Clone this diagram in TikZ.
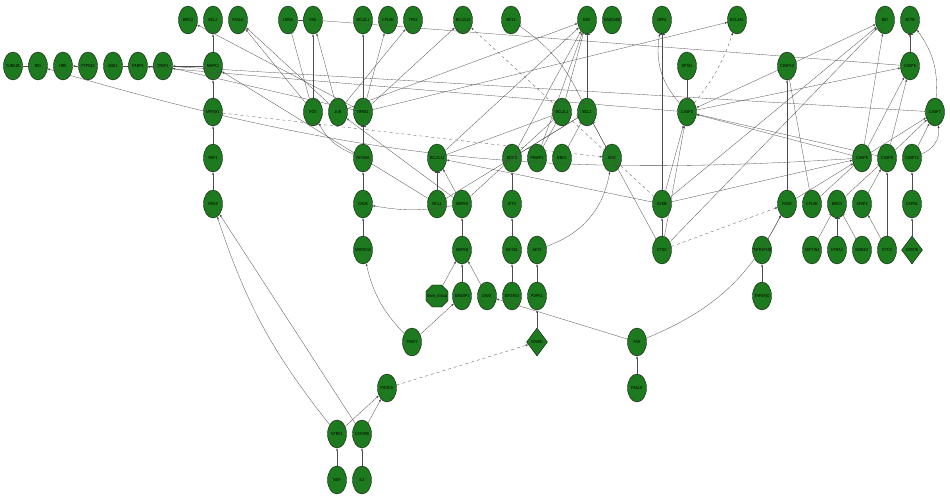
\documentclass[tikz,border=0pt]{standalone}
\usepackage{fontspec}
\setmainfont{Liberation Sans}
\usepackage{tikz}
\usetikzlibrary{shapes.geometric, arrows.meta}
\definecolor{gnode}{RGB}{30,122,30}
\newcommand{\gn}[1]{\makebox[0pt]{\scalebox{0.8}[1]{#1}}}
\tikzset{
  gene/.style={ellipse, draw=black, line width=0.3pt, fill=gnode, minimum width=19pt, minimum height=28pt, inner sep=0pt, font=\fontsize{4.4}{5}\selectfont},
  cpd/.style={diamond, draw=black, line width=0.3pt, fill=gnode, minimum width=21pt, minimum height=28pt, inner sep=0pt, font=\fontsize{4.4}{5}\selectfont},
  grp/.style={regular polygon, regular polygon sides=8, draw=black, line width=0.3pt, fill=gnode, minimum size=24pt, inner sep=0pt, font=\fontsize{4.4}{5}\selectfont},
  act/.style={-{Latex[length=2.5pt,width=2pt]}, line width=0.3pt, draw=black!70},
  inh/.style={-{Bar[width=5pt]}, line width=0.3pt, draw=black!70},
  dact/.style={act, dashed},
}
\begin{document}
\begin{tikzpicture}[x=1pt, y=-1pt]
    \useasboundingbox (0,0) rectangle (950,502);
    % top row
    \node[gene] (BIRC2a) at (188,20) {\gn{BIRC2}};
    \node[gene] (BCL2a) at (213,20) {\gn{BCL2}};
    \node[gene] (FASLGa) at (238,20) {\gn{FASLG}};
    \node[gene] (LMNA) at (288,20) {\gn{LMNA}};
    \node[gene] (FASa) at (313,20) {\gn{FAS}};
    \node[gene] (BCL2L1a) at (363,20) {\gn{BCL2L1}};
    \node[gene] (CFLARa) at (388,20) {\gn{CFLAR}};
    \node[gene] (TP53) at (413,20) {\gn{TP53}};
    \node[gene] (BCL2L11a) at (463,20) {\gn{BCL2L11}};
    \node[gene] (MCL1a) at (511,20) {\gn{MCL1}};
    \node[gene] (BAX) at (587,20) {\gn{BAX}};
    \node[gene] (GADD45B) at (612,20) {\gn{GADD45B}};
    \node[gene] (DFFA) at (662,20) {\gn{DFFA}};
    \node[gene] (BCL2A1) at (737,20) {\gn{BCL2A1}};
    \node[gene] (BIDb) at (885,20) {\gn{BID}};
    \node[gene] (ACTB) at (910,20) {\gn{ACTB}};
    % second row
    \node[gene] (TUBA1B) at (13,66) {\gn{TUBA1B}};
    \node[gene] (BIDa) at (38,66) {\gn{BID}};
    \node[gene] (HRK) at (63,66) {\gn{HRK}};
    \node[gene] (PTPN13) at (88,66) {\gn{PTPN13}};
    \node[gene] (BAK1) at (113,66) {\gn{BAK1}};
    \node[gene] (PARP3) at (138,66) {\gn{PARP3}};
    \node[gene] (TRAF1) at (163,66) {\gn{TRAF1}};
    \node[gene] (MAPK1) at (213,66) {\gn{MAPK1}};
    \node[gene] (SPTA1) at (687,66) {\gn{SPTA1}};
    \node[gene] (CASP10) at (787,66) {\gn{CASP10}};
    \node[gene] (CASP6) at (910,66) {\gn{CASP6}};
    % third row
    \node[gene] (MAP3K1) at (213,112) {\gn{MAP3K1}};
    \node[gene] (FOS) at (313,112) {\gn{FOS}};
    \node[gene] (JUN) at (338,112) {\gn{JUN}};
    \node[gene] (NFKB1) at (363,112) {\gn{NFKB1}};
    \node[gene] (BCL2L1b) at (562,112) {\gn{BCL2L1}};
    \node[gene] (BCL2b) at (587,112) {\gn{BCL2}};
    \node[gene] (CASP3) at (687,112) {\gn{CASP3}};
    \node[gene] (CASP7) at (935,112) {\gn{CASP7}};
    % fourth row
    \node[gene] (RAF1) at (213,158) {\gn{RAF1}};
    \node[gene] (NFKBIA) at (363,158) {\gn{NFKBIA}};
    \node[gene] (BCL2L11b) at (437,158) {\gn{BCL2L11}};
    \node[gene] (DDIT3) at (512,158) {\gn{DDIT3}};
    \node[gene] (PMAIP1) at (537,158) {\gn{PMAIP1}};
    \node[gene] (BBC3) at (562,158) {\gn{BBC3}};
    \node[gene] (BAD) at (612,158) {\gn{BAD}};
    \node[gene] (CASP8) at (862,158) {\gn{CASP8}};
    \node[gene] (CASP9) at (887,158) {\gn{CASP9}};
    \node[gene] (CASP12) at (912,158) {\gn{CASP12}};
    % fifth row
    \node[gene] (HRAS) at (213,204) {\gn{HRAS}};
    \node[gene] (CHUK) at (363,204) {\gn{CHUK}};
    \node[gene] (MCL1b) at (437,204) {\gn{MCL1}};
    \node[gene] (MAPK9) at (462,204) {\gn{MAPK9}};
    \node[gene] (ATF4) at (512,204) {\gn{ATF4}};
    \node[gene] (GZMB) at (662,204) {\gn{GZMB}};
    \node[gene] (FADD) at (787,204) {\gn{FADD}};
    \node[gene] (CFLARb) at (812,204) {\gn{CFLAR}};
    \node[gene] (BIRC3) at (837,204) {\gn{BIRC3}};
    \node[gene] (APAF1) at (862,204) {\gn{APAF1}};
    \node[gene] (CAPN1) at (912,204) {\gn{CAPN1}};
    % sixth row
    \node[gene] (MAP3K14) at (363,250) {\gn{MAP3K14}};
    \node[gene] (MAPK8) at (462,250) {\gn{MAPK8}};
    \node[gene] (EIF2S1) at (512,250) {\gn{EIF2S1}};
    \node[gene] (AKT3) at (537,250) {\gn{AKT3}};
    \node[gene] (CTSC) at (662,250) {\gn{CTSC}};
    \node[gene] (TNFRSF10B) at (762,250) {\gn{TNFRSF10B}};
    \node[gene] (SEPTIN4) at (812,250) {\gn{SEPTIN4}};
    \node[gene] (HTRA2) at (837,250) {\gn{HTRA2}};
    \node[gene] (DIABLO) at (862,250) {\gn{DIABLO}};
    \node[gene] (CYCS) at (887,250) {\gn{CYCS}};
    \node[cpd] (C00076) at (912,250) {\gn{C00076}};
    % lower part
    \node[grp] (GeneGroup) at (437,296) {\gn{Gene\_Group}};
    \node[gene] (DAB2IP1) at (462,296) {\gn{DAB2IP1}};
    \node[gene] (DAXX) at (487,296) {\gn{DAXX}};
    \node[gene] (EIF2AK3) at (512,296) {\gn{EIF2AK3}};
    \node[gene] (PDPK1) at (537,296) {\gn{PDPK1}};
    \node[gene] (TNFSF10) at (762,296) {\gn{TNFSF10}};
    \node[gene] (TRAF2) at (412,342) {\gn{TRAF2}};
    \node[cpd] (C05981) at (537,342) {\gn{C05981}};
    \node[gene] (FASb) at (637,342) {\gn{FAS}};
    \node[gene] (PIK3CA) at (387,388) {\gn{PIK3CA}};
    \node[gene] (FASLGb) at (637,388) {\gn{FASLG}};
    \node[gene] (NTRK1) at (337,434) {\gn{NTRK1}};
    \node[gene] (CSF2RB) at (362,434) {\gn{CSF2RB}};
    \node[gene] (NGF) at (337,480) {\gn{NGF}};
    \node[gene] (IL3) at (362,480) {\gn{IL3}};
    % activations
    \foreach \a/\b in {NGF/NTRK1, IL3/CSF2RB, NTRK1/PIK3CA, CSF2RB/PIK3CA, C05981/PDPK1, PDPK1/AKT3,
        EIF2AK3/EIF2S1, EIF2S1/ATF4, ATF4/DDIT3, FASLGb/FASb, TNFSF10/TNFRSF10B, TNFRSF10B/FADD,
        GeneGroup/MAPK8, DAB2IP1/MAPK8, DAXX/MAPK8, TRAF2/DAB2IP1, MAPK8/MAPK9, MAP3K14/CHUK, CHUK/NFKBIA,
        HRAS/RAF1, RAF1/MAP3K1, MAP3K1/MAPK1, MAPK1/BCL2a, CSF2RB/HRAS, C00076/CAPN1, CAPN1/CASP12,
        CYCS/APAF1, CYCS/CASP9, APAF1/CASP9, FADD/CASP8, FADD/CASP10, CTSC/GZMB, GZMB/BIDb, GZMB/CASP3,
        GZMB/CASP8, CASP8/BIDb, CASP8/CASP3, CASP8/CASP6, CASP8/CASP7, CASP9/CASP3, CASP9/CASP7,
        CASP12/CASP7, CASP10/BIDb, CASP6/ACTB, MAPK9/JUN, MAPK9/BCL2L11b, NFKB1/BCL2L1a, NFKB1/CFLARa,
        NFKB1/BCL2L11a, NFKB1/BIRC2a, NFKB1/TRAF1, JUN/FASLGa, JUN/FASa, JUN/TP53, FOS/FASLGa,
        FOS/FASa, NFKB1/BCL2A1, JUN/BAX, CASP9/CASP6, BCL2L11b/BAX, DDIT3/BAX, PMAIP1/BAX}
        \draw[act] (\a) -- (\b);
    \draw[act] (NTRK1) to[bend left=10] (HRAS);
    \draw[act] (TRAF2) to[bend left=15] (MAP3K14);
    \draw[act] (NFKBIA) to[bend left=20] (FOS);
    \draw[act] (MAPK1) -- (TRAF1);
    \draw[act] (CASP3) to[bend left=25] (DFFA);
    \draw[act] (CASP7) to[bend right=20] (ACTB);
    \draw[act] (CASP12) to[bend right=40] (CASP7);
    \draw[act] (PTPN13) -- (HRK);
    \draw[act] (CASP8) to[bend left=10] (BIDa);
    \draw[act] (CASP3) -- (PARP3);
    \draw[act] (FASb) -- (DAXX);
    \draw[act] (FASb) to[bend right=20] (FADD);
    \draw[act] (CTSC) -- (CASP3);
    \draw[act] (CTSC) -- (BIDb);
    \draw[act] (CASP3) -- (CASP6);
    \draw[act] (CASP10) -- (CASP3);
    \draw[act] (GZMB) -- (BCL2L11b);
    \draw[act] (AKT3) to[bend right=30] (BAD);
    \draw[act] (MCL1b) -- (MAPK1);
    \draw[act] (MAPK9) to[bend left=10] (CHUK);
    % dashed
    \draw[dact] (PIK3CA) -- (C05981);
    \draw[dact] (CTSC) -- (FADD);
    \draw[dact] (MAP3K1) -- (BAD);
    \draw[dact] (CASP3) to[bend right=10] (BCL2A1);
    \draw[dact] (GZMB) -- (BCL2L11a);
    % inhibitions
    \foreach \a/\b in {TUBA1B/BIDa, LMNA/FASa, BAK1/PARP3, PARP3/TRAF1, SPTA1/CASP3, CASP6/ACTB,
        SEPTIN4/BIRC3, HTRA2/BIRC3, DIABLO/BIRC3, BIRC3/CASP9, CFLARb/CASP8, CFLARb/CASP10,
        BAD/BCL2b, BBC3/BCL2b, PMAIP1/BCL2L1b, DDIT3/BCL2b, MCL1b/BCL2L11b, BCL2b/BAX, BCL2L1b/BAX,
        NFKBIA/NFKB1, GZMB/DFFA, FOS/LMNA}
        \draw[inh] (\a) -- (\b);
    \draw[inh] (BCL2L11b) -- (BCL2L1b);
    \draw[inh] (MCL1b) -- (BCL2b);
    \draw[inh] (CTSC) -- (BCL2b);
    \draw[inh] (MAPK9) -- (BCL2L1b);
    \draw[inh] (BCL2b) to[bend right=15] (MCL1a);
    \draw[inh] (FASa) -- (CASP6);
    \draw[inh] (TRAF1) -- (CASP7);
\end{tikzpicture}
\end{document}
